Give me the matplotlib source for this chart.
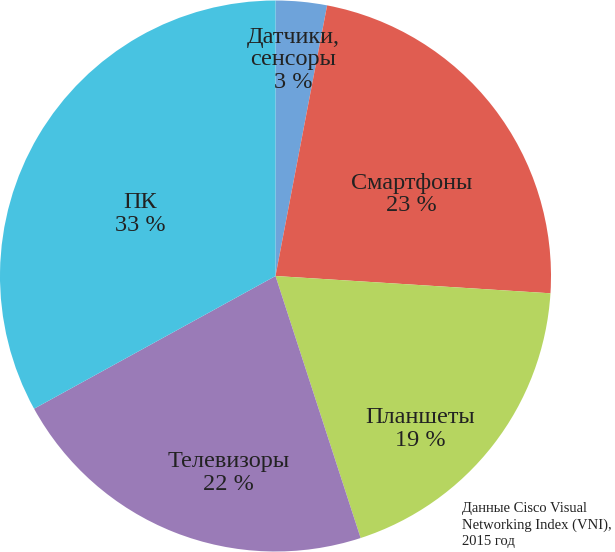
import matplotlib
matplotlib.use('Agg')
import matplotlib.pyplot as plt

plt.rcParams['font.family'] = ['Liberation Serif', 'DejaVu Serif']

labels = ['Датчики,\nсенсоры', 'Смартфоны', 'Планшеты', 'Телевизоры', 'ПК']
shares = [3, 23, 19, 22, 33]
colors = ['#6ea3da', '#e05d51', '#b6d560', '#9a7bb7', '#48c3e1']
# label centres, in units of pie radius
label_xy = [(0.065, 0.785), (0.495, 0.295), (0.525, -0.555), (-0.17, -0.715), (-0.49, 0.225)]
note = 'Данные Cisco Visual\nNetworking Index (VNI),\n2015 год'

fig = plt.figure(figsize=(6.15, 5.52), dpi=100)
ax = fig.add_axes([0, 0, 551 / 615, 1])
ax.pie(shares, colors=colors, startangle=90, counterclock=False,
       radius=1, wedgeprops=dict(linewidth=0))
ax.set_xlim(-1, 1)
ax.set_ylim(-1, 1)
ax.set_aspect('equal')
ax.axis('off')

for name, val, (x, y) in zip(labels, shares, label_xy):
    ax.text(x, y, f'{name}\n{val} %', ha='center', va='center',
            fontsize=17.5, linespacing=1.08, color='#222222')

fig.text(462 / 615, 1 - 502 / 552, note, ha='left', va='top',
         fontsize=10.5, linespacing=1.3, color='#222222')

fig.savefig('out.png', dpi=100)
